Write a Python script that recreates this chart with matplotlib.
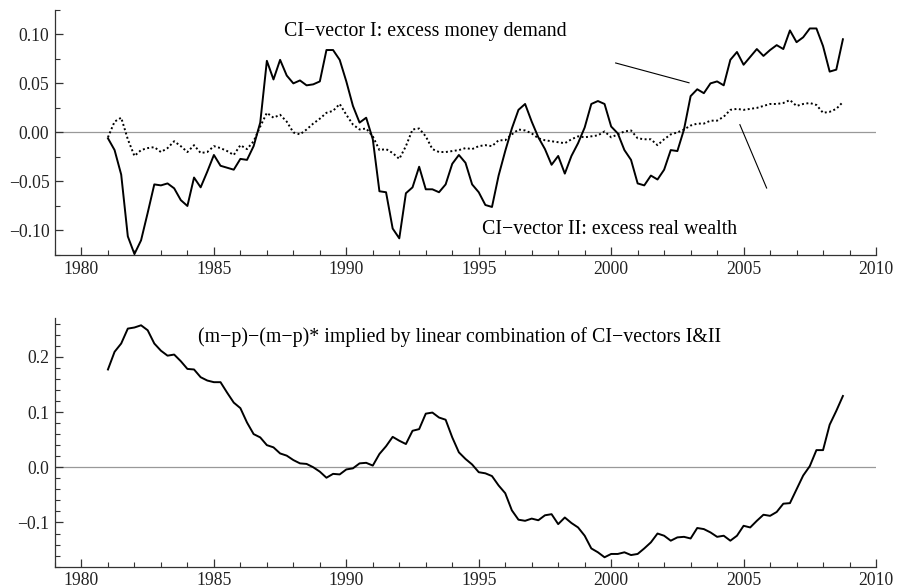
import matplotlib.pyplot as plt
from matplotlib.ticker import MultipleLocator
import numpy as np

plt.rcParams['font.family'] = ['Liberation Serif', 'DejaVu Serif']
plt.rcParams['font.size'] = 12.7

# quarterly data 1981Q1 - 2008Q4
ci_money = [
    -0.006, -0.018, -0.043, -0.106, -0.124, -0.110, -0.082, -0.053,
    -0.054, -0.052, -0.057, -0.069, -0.075, -0.046, -0.056, -0.040,
    -0.023, -0.034, -0.036, -0.038, -0.027, -0.028, -0.014, 0.010,
    0.073, 0.054, 0.074, 0.058, 0.050, 0.053, 0.048, 0.049,
    0.052, 0.084, 0.084, 0.074, 0.052, 0.027, 0.010, 0.015,
    -0.007, -0.060, -0.061, -0.098, -0.108, -0.062, -0.056, -0.035,
    -0.058, -0.058, -0.061, -0.053, -0.032, -0.023, -0.031, -0.053,
    -0.061, -0.074, -0.076, -0.044, -0.019, 0.004, 0.023, 0.029,
    0.011, -0.005, -0.017, -0.033, -0.024, -0.042, -0.024, -0.011,
    0.005, 0.029, 0.032, 0.029, 0.006, -0.001, -0.018, -0.028,
    -0.052, -0.054, -0.044, -0.048, -0.038, -0.018, -0.019, 0.003,
    0.037, 0.044, 0.040, 0.050, 0.052, 0.048, 0.074, 0.082,
    0.069, 0.077, 0.085, 0.078, 0.084, 0.089, 0.085, 0.104,
    0.092, 0.097, 0.106, 0.106, 0.088, 0.062, 0.064, 0.095,
]
ci_wealth = [
    -0.005, 0.011, 0.015, -0.007, -0.024, -0.018, -0.016, -0.015,
    -0.020, -0.016, -0.009, -0.014, -0.020, -0.013, -0.021, -0.020,
    -0.014, -0.016, -0.019, -0.023, -0.013, -0.017, -0.009, 0.006,
    0.020, 0.015, 0.018, 0.011, 0.000, -0.002, 0.003, 0.009,
    0.014, 0.020, 0.022, 0.029, 0.018, 0.008, 0.003, 0.004,
    -0.004, -0.018, -0.017, -0.021, -0.027, -0.014, 0.003, 0.004,
    -0.004, -0.017, -0.020, -0.020, -0.019, -0.018, -0.016, -0.017,
    -0.014, -0.013, -0.014, -0.008, -0.008, -0.002, 0.003, 0.002,
    -0.001, -0.006, -0.008, -0.009, -0.010, -0.011, -0.007, -0.004,
    -0.005, -0.004, -0.003, 0.001, -0.005, -0.002, 0.001, 0.002,
    -0.006, -0.007, -0.007, -0.013, -0.007, -0.002, 0.000, 0.003,
    0.007, 0.009, 0.009, 0.012, 0.012, 0.016, 0.023, 0.024,
    0.023, 0.024, 0.025, 0.027, 0.029, 0.029, 0.030, 0.033,
    0.027, 0.029, 0.030, 0.028, 0.020, 0.021, 0.024, 0.031,
]
mp_gap = [
    0.177, 0.209, 0.224, 0.251, 0.253, 0.257, 0.248, 0.224,
    0.211, 0.202, 0.204, 0.192, 0.178, 0.177, 0.163, 0.157,
    0.154, 0.154, 0.135, 0.117, 0.107, 0.081, 0.060, 0.054,
    0.040, 0.036, 0.025, 0.021, 0.013, 0.007, 0.006, 0.000,
    -0.008, -0.019, -0.012, -0.013, -0.004, -0.002, 0.007, 0.008,
    0.003, 0.024, 0.038, 0.055, 0.048, 0.042, 0.066, 0.069,
    0.097, 0.099, 0.090, 0.086, 0.054, 0.027, 0.015, 0.005,
    -0.009, -0.011, -0.016, -0.033, -0.047, -0.078, -0.095, -0.097,
    -0.093, -0.096, -0.087, -0.085, -0.103, -0.091, -0.101, -0.109,
    -0.124, -0.147, -0.154, -0.163, -0.157, -0.157, -0.154, -0.159,
    -0.157, -0.147, -0.136, -0.120, -0.124, -0.133, -0.127, -0.126,
    -0.129, -0.110, -0.112, -0.118, -0.126, -0.124, -0.133, -0.124,
    -0.106, -0.109, -0.097, -0.086, -0.088, -0.081, -0.066, -0.065,
    -0.040, -0.015, 0.002, 0.031, 0.031, 0.077, 0.102, 0.129,
]
years = 1981 + np.arange(len(ci_money)) / 4.0


def fmt(decimals):
    def f(v, pos):
        if abs(v) < 1e-9:
            v = 0.0
        return ('%.*f' % (decimals, v)).replace('-', '\u2212')
    return f


def style_axis(ax, ymajor, yminor):
    ax.spines['top'].set_visible(False)
    ax.spines['right'].set_visible(False)
    for s in ['left', 'bottom']:
        ax.spines[s].set_linewidth(0.9)
        ax.spines[s].set_color('#333333')
    ax.set_xlim(1979, 2010)
    ax.xaxis.set_major_locator(MultipleLocator(5))
    ax.xaxis.set_minor_locator(MultipleLocator(1))
    ax.yaxis.set_major_locator(MultipleLocator(ymajor))
    ax.yaxis.set_minor_locator(MultipleLocator(yminor))
    ax.tick_params(which='both', direction='in', color='#333333', labelcolor='#222222')
    ax.tick_params(which='major', length=6, width=0.9, pad=4)
    ax.tick_params(which='minor', length=3.5, width=0.8)
    ax.axhline(0, color='#999999', lw=0.9, zorder=1)


fig = plt.figure(figsize=(8.97, 5.88), dpi=100)
ax1 = fig.add_axes([0.0613, 0.5663, 0.9153, 0.417])
ax2 = fig.add_axes([0.0613, 0.0363, 0.9153, 0.4227])

ax1.plot(years, ci_money, color='black', lw=1.4, zorder=3)
ax1.plot(years, ci_wealth, color='black', lw=1.4, ls=(0, (1, 1.3)), zorder=3)
style_axis(ax1, 0.05, 0.025)
ax1.set_ylim(-0.125, 0.125)
ax1.yaxis.set_major_formatter(fmt(2))
ax1.text(1993.0, 0.1028, 'CI\u2212vector I: excess money demand', ha='center', va='center',
         fontsize=14.3)
ax1.text(1999.95, -0.0993, 'CI\u2212vector II: excess real wealth', ha='center', va='center',
         fontsize=14.3)
ax1.plot([2000.17, 2002.94], [0.0708, 0.0506], color='black', lw=0.8)
ax1.plot([2004.86, 2005.87], [0.0079, -0.0567], color='black', lw=0.8)

ax2.plot(years, mp_gap, color='black', lw=1.4, zorder=3)
style_axis(ax2, 0.1, 0.02)
ax2.set_ylim(-0.18, 0.27)
ax2.yaxis.set_major_formatter(fmt(1))
ax2.text(1994.28, 0.236, '(m\u2212p)\u2212(m\u2212p)* implied by linear combination of CI\u2212vectors I&II',
         ha='center', va='center', fontsize=14.3)

fig.savefig('out.png', dpi=100)
